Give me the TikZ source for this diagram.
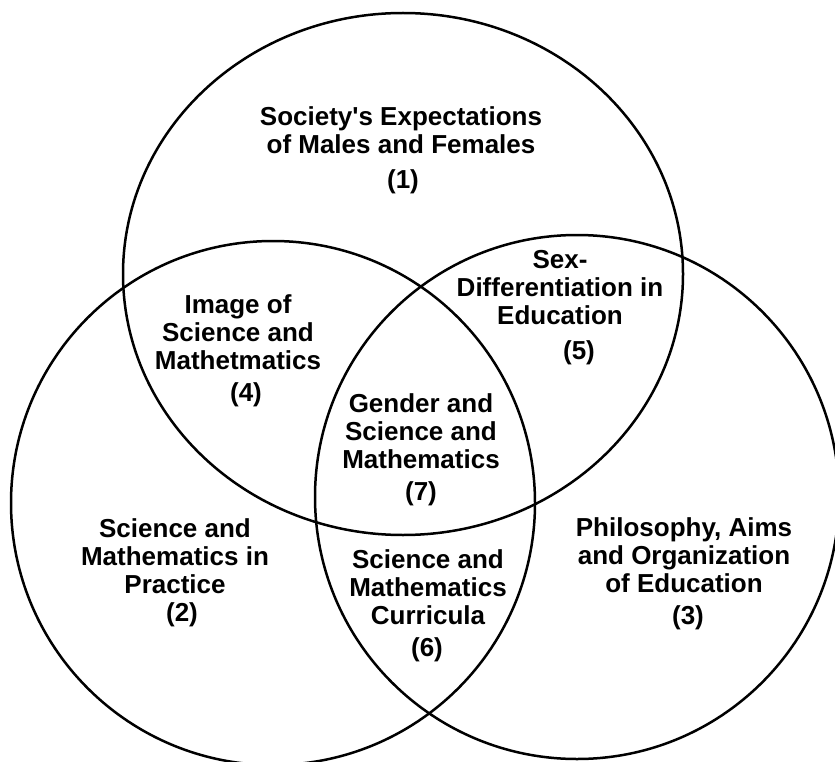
\documentclass[tikz,border=0pt]{standalone}
\usepackage{fontspec}
\setmainfont{Liberation Sans}
\begin{document}
\begin{tikzpicture}[x=1pt,y=-1pt,
  ring/.style={draw=black,line width=2.5pt},
  lbl/.style={align=center,font=\bfseries\fontsize{26}{28}\selectfont,inner sep=0pt},
  num/.style={font=\bfseries\fontsize{26}{28}\selectfont,inner sep=0pt}]
\useasboundingbox (0,0) rectangle (835,762);
\fill[white] (0,0) rectangle (835,762);
% circles
\draw[ring] (403,274) ellipse [x radius=280pt, y radius=261pt];
\draw[ring] (273,503) circle [radius=262pt];
\draw[ring] (577,497) circle [radius=262pt];
% labels
\node[lbl] (t1) at (401,130) {Society\textquotesingle s Expectations\\of Males and Females};
\node[num] (n1) at (403,182) {(1)};
\node[lbl] (t4) at (238,332) {Image of\\Science and\\Mathetmatics};
\node[num] (n4) at (246,395) {(4)};
\node[lbl] (t5) at (560,288) {Sex-\\Differentiation in\\Education};
\node[num] (n5) at (579,353) {(5)};
\node[lbl] (t7) at (421,431) {Gender and\\Science and\\Mathematics};
\node[num] (n7) at (421,494) {(7)};
\node[lbl] (t2) at (175,556) {Science and\\Mathematics in\\Practice};
\node[num] (n2) at (182,615) {(2)};
\node[lbl] (t6) at (428,587) {Science and\\Mathematics\\Curricula};
\node[num] (n6) at (427,650) {(6)};
\node[lbl] (t3) at (684,555) {Philosophy, Aims\\and Organization\\of Education};
\node[num] (n3) at (688,618) {(3)};
\end{tikzpicture}
\end{document}
